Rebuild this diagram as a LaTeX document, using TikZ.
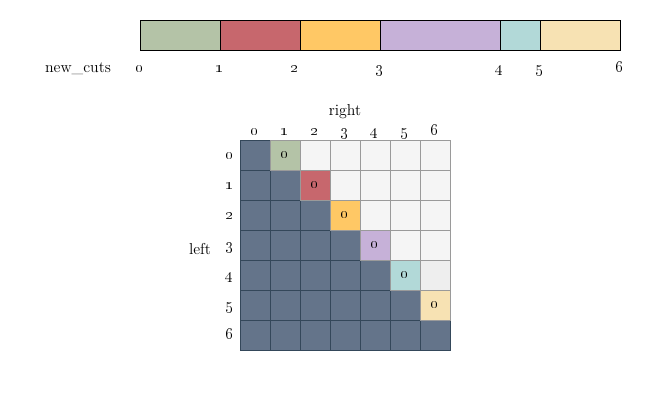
\documentclass[tikz,border=0pt]{standalone}
\definecolor{oscuro}{HTML}{64748A}
\definecolor{lineaosc}{HTML}{34475A}
\definecolor{claro}{HTML}{F5F5F5}
\definecolor{claro2}{HTML}{EEEEEE}
\definecolor{lineacla}{HTML}{9A9A9A}
\definecolor{verde}{HTML}{B4C3A7}
\definecolor{rojo}{HTML}{C7676D}
\definecolor{naranja}{HTML}{FFC865}
\definecolor{lila}{HTML}{C6B1D8}
\definecolor{turq}{HTML}{B2D9D8}
\definecolor{crema}{HTML}{F7E2B3}
\begin{document}
\begin{tikzpicture}[
    x=0.03cm,y=-0.03cm,
    font=\fontsize{13.5}{16}\selectfont,
    tramo/.style={draw=black,line width=0.6pt},
    celda/.style={draw=lineacla,line width=0.6pt,fill=claro,
                  minimum size=0.9cm,inner sep=0pt},
    celdaosc/.style={celda,draw=lineaosc,fill=oscuro},
    etiq/.style={anchor=base,inner sep=0pt}]

  \useasboundingbox (0,0) rectangle (661,411);

  % barra de cortes
  \draw[tramo,fill=verde]   (140,20) rectangle (220,50);
  \draw[tramo,fill=rojo]    (220,20) rectangle (300,50);
  \draw[tramo,fill=naranja] (300,20) rectangle (380,50);
  \draw[tramo,fill=lila]    (380,20) rectangle (500,50);
  \draw[tramo,fill=turq]    (500,20) rectangle (540,50);
  \draw[tramo,fill=crema]   (540,20) rectangle (620,50);

  \node[etiq] (titulo) at (78,72) {new\_cuts};
  \foreach \k/\x in {0/140,1/220,2/295,3/380,4/500,5/540,6/620}
    \node[etiq] (c\k) at (\x,72) {\oldstylenums{\k}};

  % matriz
  \foreach \i in {0,...,6}
    \foreach \j in {0,...,6} {
      \ifnum\j>\i
        \node[celda] (m\i\j) at (255+30*\j,155+30*\i) {};
      \else
        \node[celdaosc] (m\i\j) at (255+30*\j,155+30*\i) {};
      \fi
    }
  \node[celda,fill=claro2] at (m46) {};

  \foreach \i/\col in {0/verde,1/rojo,2/naranja,3/lila,4/turq,5/crema} {
    \pgfmathtruncatemacro\jj{\i+1}
    \node[celda,fill=\col] (d\i) at (m\i\jj) {\oldstylenums{0}};
  }

  \foreach \k in {0,...,6} {
    \node[etiq] (col\k) at (255+30*\k,135) {\oldstylenums{\k}};
    \node[anchor=base east,inner sep=0pt] (fil\k) at (234,159+30*\k) {\oldstylenums{\k}};
  }

  \node[etiq] (derecha) at (345,115) {right};
  \node[etiq] (izquierda) at (200,254) {left};

\end{tikzpicture}
\end{document}
